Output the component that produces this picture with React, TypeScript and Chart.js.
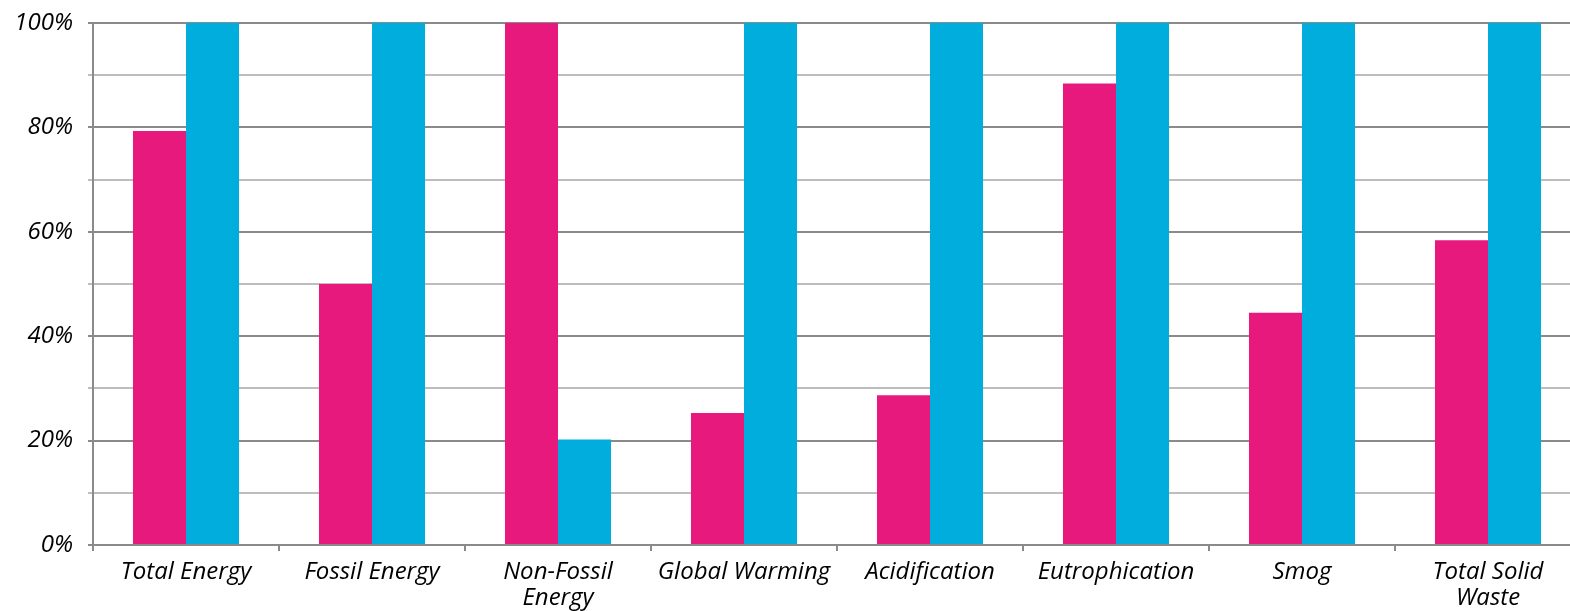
import React, { useEffect, useRef } from "react";
import { Chart, registerables } from "chart.js";

Chart.register(...registerables);

const categories: (string | string[])[] = [
  "Total Energy",
  "Fossil Energy",
  ["Non-Fossil", "Energy"],
  "Global Warming",
  "Acidification",
  "Eutrophication",
  "Smog",
  ["Total Solid", "Waste"],
];

const pinkSeries = [79.3, 50.0, 100, 25.3, 28.7, 88.4, 44.5, 58.4];
const cyanSeries = [100, 100, 20.2, 100, 100, 100, 100, 100];

const yTickValues = [0, 20, 40, 60, 80, 100];

const PINK = "#E8197D";
const CYAN = "#00ADDC";
const FONT = "'Open Sans', sans-serif";

export default function App() {
  const canvasRef = useRef<HTMLCanvasElement | null>(null);

  useEffect(() => {
    document.body.style.margin = "0";
    document.body.style.overflow = "hidden";
    const canvas = canvasRef.current;
    if (!canvas) return;
    const chart = new Chart(canvas, {
      type: "bar",
      data: {
        labels: categories,
        datasets: [
          {
            label: "A",
            data: pinkSeries,
            backgroundColor: PINK,
            barPercentage: 1,
            categoryPercentage: 0.57,
          },
          {
            label: "B",
            data: cyanSeries,
            backgroundColor: CYAN,
            barPercentage: 1,
            categoryPercentage: 0.57,
          },
        ],
      },
      options: {
        animation: false,
        responsive: false,
        maintainAspectRatio: false,
        layout: { padding: { top: 23, left: 0, right: 0, bottom: 0 } },
        plugins: {
          legend: { display: false },
          tooltip: { enabled: false },
        },
        scales: {
          x: {
            offset: true,
            grid: {
              offset: true,
              drawOnChartArea: false,
              drawTicks: true,
              tickLength: 6,
              color: "#8a8a8a",
              lineWidth: 2,
            },
            border: { display: true, color: "#8a8a8a", width: 2 },
            ticks: {
              color: "#000",
              font: { family: FONT, style: "italic", size: 24, lineHeight: 1.08 },
              padding: 8,
              maxRotation: 0,
              autoSkip: false,
            },
            afterFit: (scale: any) => {
              scale.height = 66;
              scale.paddingLeft = 0;
              scale.paddingRight = 0;
            },
          },
          y: {
            min: 0,
            max: 100,
            grid: {
              drawTicks: true,
              tickLength: 5,
              color: (ctx: any) =>
                ctx.tick && ctx.tick.value % 20 === 0 ? "#8a8a8a" : "#bdbdbd",
              lineWidth: 2,
            },
            border: { display: true, color: "#8a8a8a", width: 2 },
            ticks: {
              stepSize: 10,
              color: "#000",
              padding: 15,
              font: { family: FONT, style: "italic", size: 24 },
              callback: (v: any) =>
                yTickValues.includes(Number(v)) ? `${v}%` : "",
            },
            afterFit: (scale: any) => {
              scale.width = 93;
              scale.paddingTop = 0;
              scale.paddingBottom = 0;
            },
          },
        },
      },
    });
    return () => chart.destroy();
  }, []);

  return (
    <div
      style={{
        position: "absolute",
        left: 0,
        top: 0,
        width: 1570,
        height: 611,
        overflow: "hidden",
        background: "#fff",
      }}
    >
      <canvas
        ref={canvasRef}
        width={1581}
        height={611}
        style={{ display: "block", width: 1581, height: 611 }}
      />
    </div>
  );
}
